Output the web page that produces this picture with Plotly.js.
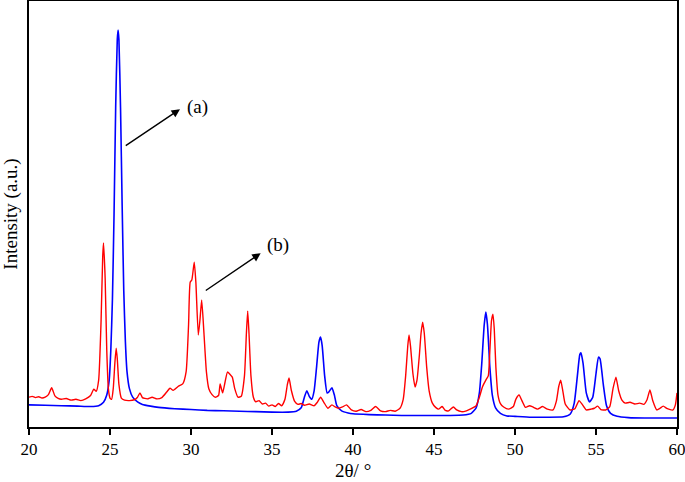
<!DOCTYPE html>
<html>
<head>
<meta charset="utf-8">
<script src="https://cdn.plot.ly/plotly-3.0.1.min.js"></script>
<style>
  html, body { margin: 0; padding: 0; background: #fff; }
  #xrd { width: 685px; height: 482px; }
</style>
</head>
<body>
<div id="xrd"></div>
<script>
// pattern (a) - blue
const angleA = [20, 21, 22, 23, 23.8, 24.3, 24.6, 24.8, 24.95, 25.05, 25.15, 25.25, 25.35, 25.45, 25.5,
    25.55, 25.65, 25.75, 25.85, 25.95, 26.05, 26.2, 26.4, 26.7, 27, 27.5, 28, 29, 30, 31, 32, 33, 34, 35,
    36, 36.5, 36.8, 37, 37.15, 37.3, 37.45, 37.6, 37.75, 37.9, 38, 38.1, 38.25, 38.4, 38.5, 38.7, 38.85,
    39, 39.3, 39.7, 40, 41, 42, 43, 44, 45, 46, 46.8, 47.3, 47.6, 47.8, 47.95, 48.1, 48.2, 48.3, 48.45,
    48.6, 48.8, 49.1, 49.5, 50, 51, 52, 53, 53.4, 53.65, 53.85, 54, 54.07, 54.2, 54.4, 54.6, 54.8, 55,
    55.15, 55.25, 55.45, 55.65, 55.9, 56.3, 57, 58, 59, 60]
const intensityA = [5.2, 5.1, 5.0, 4.9, 4.8, 5.0, 5.8, 7.5, 11, 18, 30, 50, 75, 91, 93.2,
    91, 75, 52, 32, 20, 13, 9, 7, 5.9, 5.3, 4.9, 4.6, 4.3, 4.1, 3.9, 3.8, 3.7, 3.6, 3.5,
    3.5, 3.7, 4.5, 7.0, 8.5, 7.2, 6.5, 8.5, 14, 20, 21.1, 19, 12, 8, 8.2, 9.2, 7.5,
    5.0, 3.8, 3.3, 3.1, 2.9, 2.8, 2.7, 2.7, 2.7, 2.7, 2.8, 3.2, 4.5, 8, 15, 24, 27.0, 24, 14,
    7.5, 4.5, 3.2, 2.6, 2.5, 2.3, 2.3, 2.4, 3.0, 5.5, 12, 17, 17.4, 15, 8, 5.9, 7, 12.5,
    16.4, 16, 10, 5, 3.2, 2.5, 2.2, 2.1, 2.1, 2.1]

// pattern (b) - red
const angleB = [20, 20.2, 20.4, 20.6, 20.8, 21, 21.2, 21.4, 21.6, 21.8, 22, 22.3, 22.6, 22.9, 23.2, 23.5,
    23.8, 24, 24.15, 24.3, 24.45, 24.55, 24.6, 24.7, 24.8, 24.9, 25, 25.1, 25.2, 25.3, 25.38, 25.45, 25.55,
    25.7, 25.9, 26.2, 26.5, 26.7, 26.85, 27, 27.3, 27.6, 27.9, 28.2, 28.5, 28.7, 28.9, 29.2, 29.5, 29.7,
    29.85, 29.95, 30.05, 30.2, 30.3, 30.45, 30.55, 30.66, 30.8, 30.95, 31.1, 31.3, 31.5, 31.7, 31.8, 31.95,
    32.1, 32.25, 32.4, 32.55, 32.7, 32.9, 33.1, 33.3, 33.42, 33.5, 33.58, 33.7, 33.85, 34, 34.2, 34.4,
    34.6, 34.8, 35, 35.2, 35.4, 35.6, 35.8, 35.95, 36.05, 36.2, 36.4, 36.6, 36.8, 37, 37.3, 37.6, 37.8,
    38, 38.2, 38.45, 38.7, 38.9, 39.1, 39.35, 39.6, 39.9, 40.2, 40.5, 40.8, 41.1, 41.4, 41.7, 42, 42.3,
    42.6, 42.9, 43.1, 43.25, 43.38, 43.46, 43.55, 43.7, 43.83, 43.95, 44.1, 44.2, 44.3, 44.4, 44.55, 44.7,
    44.9, 45.1, 45.3, 45.5, 45.7, 45.9, 46.2, 46.4, 46.7, 47, 47.3, 47.6, 47.8, 48, 48.2, 48.35, 48.45,
    48.55, 48.64, 48.72, 48.82, 48.95, 49.1, 49.3, 49.6, 49.9, 50.05, 50.25, 50.45, 50.65, 50.9, 51.1,
    51.4, 51.7, 52, 52.35, 52.55, 52.7, 52.82, 52.95, 53.1, 53.4, 53.7, 53.95, 54.15, 54.4, 54.7, 54.9,
    55.1, 55.3, 55.6, 55.85, 56.05, 56.23, 56.4, 56.6, 56.8, 57.1, 57.4, 57.7, 57.95, 58.15, 58.33, 58.5,
    58.75, 58.95, 59.15, 59.4, 59.75, 59.9, 60]
const intensityB = [7.0, 7.2, 6.9, 7.1, 6.8, 7.0, 7.6, 9.2, 7.3, 6.7, 6.5, 6.7, 6.3, 6.5, 6.2, 6.6,
    7.4, 8.9, 8.4, 11, 25, 40, 43.2, 35, 18, 9, 6.8, 6.5, 9, 15, 18.5, 16, 10,
    6.8, 6.3, 6.2, 6.4, 7.0, 8.0, 6.9, 6.6, 7.0, 6.6, 6.9, 8.2, 9.1, 8.6, 9.5, 10.2, 13,
    24, 34, 34.5, 38.7, 34, 21.6, 25, 29.8, 22, 13, 9.0, 7.6, 7.0, 7.4, 10.1, 8.0,
    10.5, 12.9, 12.4, 11.7, 9.0, 7.0, 7.2, 12, 22, 27.2, 22, 12, 7.0, 5.9, 6.2, 5.4,
    5.6, 4.9, 5.2, 4.8, 5.5, 5.0, 6.5, 10, 11.5, 8.5, 6.0, 5.3, 5.5, 5.1, 5.4, 5.0, 5.8,
    7.0, 5.8, 4.4, 5.2, 4.7, 4.4, 4.7, 5.2, 4.0, 3.7, 4.1, 3.6, 3.9, 4.8, 3.8, 3.6, 3.9,
    3.7, 4.4, 6.5, 12, 19, 21.6, 19, 12.5, 9.4, 11, 17, 22, 24.6, 22, 14, 8.5,
    5.6, 4.6, 4.2, 4.8, 3.9, 3.8, 4.7, 4.0, 3.6, 3.8, 4.3, 5.0, 7.0, 9.5, 11.0, 12, 18,
    25, 26.5, 23, 14, 7.5, 5.5, 4.7, 4.2, 4.8, 6.5, 7.5, 6.0, 4.6, 5.0, 4.7,
    4.2, 4.8, 4.2, 4.0, 6.0, 9.5, 11.0, 8.5, 5.4, 4.0, 4.3, 6.2, 5.3, 4.0, 4.2, 4.4,
    4.9, 4.1, 4.0, 4.8, 9, 11.7, 8.5, 6.3, 5.6, 5.8, 5.4, 5.6, 5.3, 6.4, 8.7, 6.2,
    4.0, 4.4, 4.9, 4.3, 4.0, 5.2, 8.0]

const tickAngles = [20, 25, 30, 35, 40, 45, 50, 55, 60]
const labelA = '(a)'
const labelB = '(b)'
const xTitle = '2θ/ °'

const serif = 'Liberation Serif'

const data = [
    {
        x: angleA, y: intensityA, type: 'scatter', mode: 'lines',
        line: {color: '#0000ff', width: 1.6, shape: 'spline', smoothing: 0.5}, name: labelA,
    },
    {
        x: angleB, y: intensityB, type: 'scatter', mode: 'lines',
        line: {color: '#ff0000', width: 1.4, shape: 'spline', smoothing: 0.5}, name: labelB,
    },
]

const arrow = {xref: 'x', yref: 'y', axref: 'x', ayref: 'y', text: '', showarrow: true,
    arrowhead: 2, arrowsize: 1.2, arrowwidth: 1.4, arrowcolor: '#000'}

const layout = {
    width: 685,
    height: 482,
    showlegend: false,
    paper_bgcolor: '#fff',
    plot_bgcolor: '#fff',
    font: {family: serif, color: '#000', size: 17},
    margin: {l: 29, r: 8, t: 1, b: 55, pad: 0},
    xaxis: {
        range: [20, 60],
        tickvals: tickAngles,
        ticktext: tickAngles.map(String),
        ticks: 'outside',
        ticklen: 6,
        tickwidth: 1.5,
        tickcolor: '#000',
        ticklabeloverflow: 'allow',
        showline: true,
        mirror: true,
        linecolor: '#000',
        linewidth: 2,
        showgrid: false,
        zeroline: false,
        automargin: false,
        tickfont: {family: serif, size: 17, color: '#000'},
    },
    yaxis: {
        range: [0, 100],
        showticklabels: false,
        ticks: '',
        showline: true,
        mirror: true,
        linecolor: '#000',
        linewidth: 2,
        showgrid: false,
        zeroline: false,
        title: {text: 'Intensity (a.u.)', font: {family: serif, size: 19}, standoff: 4},
    },
    annotations: [
        {...arrow, x: 29.32, y: 74.6, ax: 25.88, ay: 65.8},
        {x: 30.43, y: 75.1, xref: 'x', yref: 'y', text: labelA, showarrow: false,
         font: {family: serif, size: 19}},
        {...arrow, x: 34.3, y: 40.8, ax: 30.82, ay: 31.8},
        {x: 35.37, y: 42.7, xref: 'x', yref: 'y', text: labelB, showarrow: false,
         font: {family: serif, size: 19}},
        {x: 0.5, y: -0.101, xref: 'paper', yref: 'paper', yanchor: 'middle', text: xTitle,
         showarrow: false, font: {family: serif, size: 19}},
    ],
}

Plotly.newPlot('xrd', data, layout, {displayModeBar: false, staticPlot: true})
</script>
</body>
</html>
